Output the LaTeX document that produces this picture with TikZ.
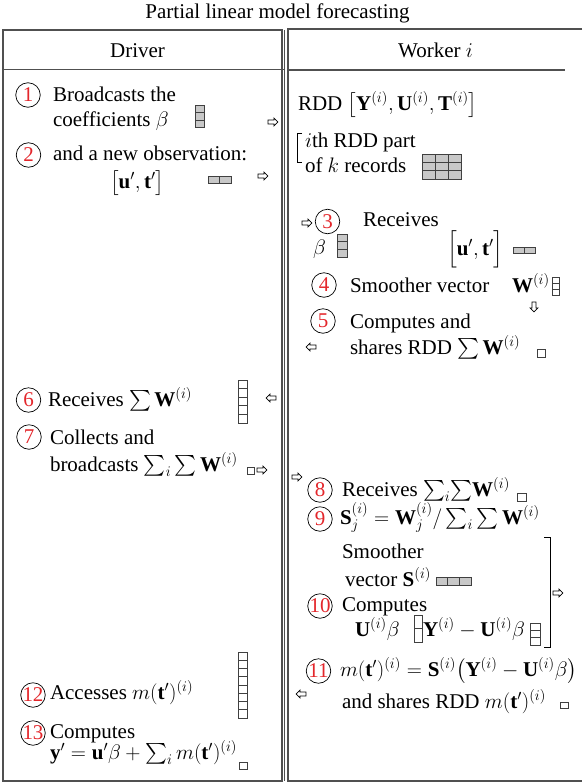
\RequirePackage{fix-cm}
\documentclass[tikz,border=0pt]{standalone}
\usepackage{amsmath}
\usepackage{fontspec}
\setmainfont{Liberation Serif}
\usetikzlibrary{shapes.arrows}
\definecolor{framec}{HTML}{505050}
\definecolor{numred}{HTML}{E3262B}
\definecolor{cellgray}{HTML}{C8C8C8}
\definecolor{cellline}{HTML}{404040}
\newcommand\cellgrid[7]{%
  \foreach \ci in {1,...,#5}{\foreach \ri in {1,...,#6}{%
    \draw[cellstyle,fill=#7] ({#1+(\ci-1)*#3},{#2+(\ri-1)*#4}) rectangle ++(#3,#4);}}}
\begin{document}
\begin{tikzpicture}[x=1pt,y=-1pt,
  every node/.style={font=\fontsize{21}{25}\selectfont, inner sep=0pt, outer sep=0pt},
  txt/.style={anchor=base west},
  num/.style={circle, draw, line width=0.7pt, minimum size=24.5pt, inner sep=0pt, text=numred},
  frame/.style={draw=framec, line width=1.1pt},
  cellstyle/.style={draw=cellline, line width=0.8pt},
  arr/.style={single arrow, draw, line width=0.7pt, fill=white, inner xsep=0pt, inner ysep=1.6pt,
    minimum height=10pt, minimum width=0pt, single arrow head extend=2pt, single arrow head indent=0pt},
  rarr/.style={arr},
  larr/.style={arr, shape border rotate=180},
  darr/.style={arr, shape border rotate=270, inner xsep=1.6pt, inner ysep=0pt}]
\useasboundingbox (0,0) rectangle (582,782);
% frames
\draw[frame] (3,30) rectangle (282,781);
\draw[frame] (284.8,30) -- (284.8,781);
\draw[frame] (582,29) -- (288,29) -- (288,781) -- (582,781);
\draw[frame] (3,69.5) -- (284,69.5);
\draw[frame] (288,70) -- (565,70);
% headers
\node[anchor=base] (title) at (277.5,18) {Partial linear model forecasting};
\node[anchor=base] (driver) at (137.5,57) {Driver};
\node[anchor=base] (worker) at (435.5,57) {Worker $i$};
% ---------------- Driver column
\node[num] (c1) at (28,95) {\makebox[0pt]{1}};
\node[txt] (t1) at (53,101) {Broadcasts the};
\node[txt] (t2) at (53,126) {coefficients $\beta$};
\cellgrid{195}{105}{9}{7.6}{1}{3}{cellgray}
\node[rarr] (a1) at (272,122) {};
\node[num] (c2) at (28.5,155) {\makebox[0pt]{2}};
\node[txt] (t3) at (53,160) {and a new observation:};
\node[txt] (t4) at (110,188) {$\bigl[\mathbf{u}',\mathbf{t}'\bigr]$};
\cellgrid{208}{176}{11.5}{7}{2}{1}{cellgray}
\node[rarr] (a2) at (262,176) {};
\node[num] (c6) at (28.5,400) {\makebox[0pt]{6}};
\node[txt] (t15) at (48,406) {Receives $\sum\mathbf{W}^{(i)}$};
\cellgrid{238}{380}{9}{8.6}{1}{5}{white}
\node[larr] (a6) at (272,398) {};
\node[num] (c7) at (29,437) {\makebox[0pt]{7}};
\node[txt] (t16) at (50,444) {Collects and};
\node[txt] (t17) at (50,471) {broadcasts $\sum_i\sum\mathbf{W}^{(i)}$};
\cellgrid{247}{467}{7}{7}{1}{1}{white}
\node[rarr] (a7) at (261,470) {};
\cellgrid{238}{652}{9}{8.25}{1}{8}{white}
\node[num] (c12) at (33,695) {\makebox[0pt]{12}};
\node[txt] (t27) at (50,699) {Accesses $m(\mathbf{t}')^{(i)}$};
\node[num] (c13) at (33,733) {\makebox[0pt]{13}};
\node[txt] (t28) at (50,738) {Computes};
\node[txt] (t29) at (50,759) {$\mathbf{y}'=\mathbf{u}'\beta+\sum_i m(\mathbf{t}')^{(i)}$};
\cellgrid{239}{762}{8}{7}{1}{1}{white}
% ---------------- Worker column
\node[txt] (t5) at (298,110) {RDD $\bigl[\mathbf{Y}^{(i)},\mathbf{U}^{(i)},\mathbf{T}^{(i)}\bigr]$};
\draw[line width=0.7pt] (302,133) -- (297.5,133) -- (297.5,162) -- (302,162);
\node[txt] (t6) at (305,147) {$i$th RDD part};
\node[txt] (t7) at (305,172) {of $k$ records};
\cellgrid{422}{154}{13}{8.3}{3}{3}{cellgray}
\node[rarr] (a3) at (306,223) {};
\node[num] (c3) at (327.5,221.5) {\makebox[0pt]{3}};
\node[txt] (t8) at (363,226) {Receives};
\node[txt] (t9) at (313,254) {$\beta$};
\cellgrid{337}{234}{10}{7.7}{1}{3}{cellgray}
\node[txt] (t10) at (447,255) {$\Bigl[\mathbf{u}',\mathbf{t}'\Bigr]$};
\cellgrid{513}{247}{11}{6.5}{2}{1}{cellgray}
\node[num] (c4) at (324,285) {\makebox[0pt]{4}};
\node[txt] (t11) at (350,292) {Smoother vector};
\node[txt] (t12) at (512,292) {$\mathbf{W}^{(i)}$};
\cellgrid{552}{277}{7}{6}{1}{3}{white}
\node[darr] (a4) at (534,306) {};
\node[num] (c5) at (323,321) {\makebox[0pt]{5}};
\node[txt] (t13) at (350,328) {Computes and};
\node[txt] (t14) at (350,354) {shares RDD $\sum\mathbf{W}^{(i)}$};
\node[larr] (a5) at (312,347) {};
\cellgrid{537}{349}{8}{8}{1}{1}{white}
\node[rarr] (a8) at (296,477) {};
\node[num] (c8) at (320,490) {\makebox[0pt]{8}};
\node[txt] (t18) at (342,496) {Receives $\sum_i\!\sum\!\mathbf{W}^{(i)}$};
\cellgrid{517}{493}{9}{8}{1}{1}{white}
\node[num] (c9) at (320,519) {\makebox[0pt]{9}};
\node[txt] (t19) at (340,524) {$\mathbf{S}_j^{(i)}=\mathbf{W}_j^{(i)}/\sum_i\sum\mathbf{W}^{(i)}$};
\draw[line width=0.7pt] (544,537) -- (550,537) -- (550,647) -- (544,647);
\node[rarr] (a9) at (557,593) {};
\node[txt] (t20) at (342,558) {Smoother};
\node[txt] (t21) at (345,586) {vector $\mathbf{S}^{(i)}$};
\cellgrid{436}{577}{11.7}{8}{3}{1}{cellgray}
\node[num] (c10) at (320,606) {\makebox[0pt]{10}};
\node[txt] (t22) at (342,611) {Computes};
\node[txt] (t23) at (355,636) {$\mathbf{U}^{(i)}\beta$};
\cellgrid{414}{615}{8}{13.5}{1}{2}{white}
\node[txt] (t24) at (423,636) {$\mathbf{Y}^{(i)}-\mathbf{U}^{(i)}\beta$};
\cellgrid{530}{623}{10}{7.3}{1}{3}{white}
\node[num] (c11) at (318.5,671) {\makebox[0pt]{11}};
\node[txt] (t25) at (340,676) {$m(\mathbf{t}')^{(i)}=\mathbf{S}^{(i)}\bigl(\mathbf{Y}^{(i)}-\mathbf{U}^{(i)}\beta\bigr)$};
\node[larr] (a10) at (302,694) {};
\node[txt] (t26) at (342,708) {and shares RDD $m(\mathbf{t}')^{(i)}$};
\cellgrid{560}{702}{8}{6}{1}{1}{white}
\end{tikzpicture}
\end{document}
